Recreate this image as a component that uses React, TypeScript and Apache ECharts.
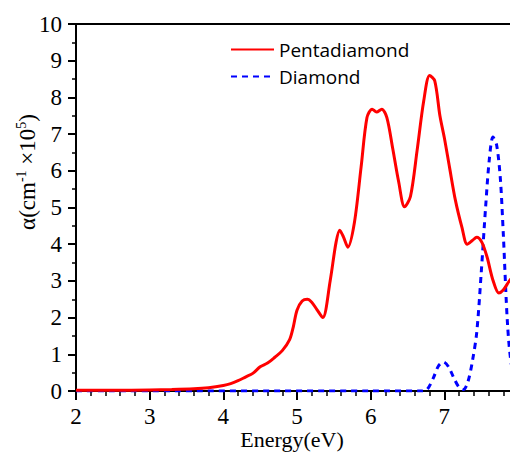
import React, { useEffect, useRef } from "react";
import * as echarts from "echarts";

const seriesNames = ["Pentadiamond", "Diamond"];

const pentaEnergy = [2.0, 2.5, 3.0, 3.3, 3.6, 3.8, 4.0, 4.1, 4.2, 4.3, 4.4, 4.5, 4.6, 4.7, 4.8, 4.9, 4.95, 5.0, 5.07, 5.14, 5.2, 5.27, 5.35, 5.45, 5.53, 5.58, 5.63, 5.69, 5.78, 5.87, 5.95, 6.02, 6.08, 6.15, 6.22, 6.3, 6.38, 6.46, 6.54, 6.63, 6.72, 6.8, 6.87, 6.94, 7.0, 7.07, 7.15, 7.24, 7.31, 7.38, 7.44, 7.51, 7.58, 7.66, 7.74, 7.8, 7.89, 8.0];
const pentaAlpha = [0.02, 0.02, 0.03, 0.04, 0.06, 0.09, 0.15, 0.2, 0.28, 0.38, 0.48, 0.66, 0.76, 0.92, 1.1, 1.4, 1.75, 2.2, 2.45, 2.5, 2.42, 2.22, 2.0, 3.0, 4.05, 4.38, 4.2, 3.92, 4.6, 6.1, 7.45, 7.68, 7.6, 7.68, 7.45, 6.6, 5.7, 5.02, 5.3, 6.55, 7.9, 8.6, 8.45, 7.5, 6.9, 6.1, 5.2, 4.45, 4.0, 4.1, 4.19, 4.05, 3.65, 3.02, 2.67, 2.75, 3.02, 3.25];

const diamondEnergy = [2.0, 6.0, 6.7, 6.77, 6.85, 6.92, 6.99, 7.06, 7.13, 7.2, 7.26, 7.32, 7.38, 7.44, 7.5, 7.56, 7.61, 7.66, 7.71, 7.76, 7.8, 7.86, 7.92, 8.0];
const diamondAlpha = [0, 0, 0, 0.05, 0.35, 0.68, 0.79, 0.65, 0.35, 0.1, 0.04, 0.25, 0.8, 1.6, 3.2, 5.0, 6.3, 6.92, 6.7, 5.8, 4.3, 1.75, 0.6, 0.2];

const SERIF = "Liberation Serif";

export default function App() {
  const ref = useRef<HTMLDivElement>(null);
  useEffect(() => {
    document.body.style.margin = "0";
    const chart = echarts.init(ref.current!, null, { renderer: "svg" });
    const toPairs = (xs: number[], ys: number[]) => xs.map((x, i) => [x, ys[i]]);
    chart.setOption({
      animation: false,
      backgroundColor: "#fff",
      grid: {
        left: 76,
        right: 0,
        top: 24,
        bottom: 61,
        containLabel: false,
        outerBoundsMode: "none",
        show: true,
        borderColor: "#000",
        borderWidth: 2,
      },
      legend: {
        orient: "vertical",
        left: 225,
        top: 35,
        itemWidth: 43,
        itemHeight: 14,
        itemGap: 8,
        data: seriesNames,
        itemStyle: { opacity: 0 },
        textStyle: { fontFamily: "Open Sans", fontSize: 19, color: "#000", lineHeight: 19 },
      },
      xAxis: {
        type: "value",
        min: 2,
        max: 8,
        interval: 1,
        name: "Energy(eV)",
        nameLocation: "middle",
        nameGap: 37,
        nameMoveOverlap: false,
        nameTextStyle: { fontFamily: SERIF, fontSize: 22, color: "#000", lineHeight: 22, padding: [0, 10, 0, 0] },
        axisLine: { onZero: false, lineStyle: { color: "#000", width: 2 } },
        axisTick: { length: 9, lineStyle: { color: "#000", width: 2 } },
        minorTick: { show: true, splitNumber: 5, length: 5, lineStyle: { color: "#000", width: 1.5 } },
        splitLine: { show: false },
        axisLabel: { fontFamily: SERIF, fontSize: 23, lineHeight: 22, color: "#000", margin: 14, showMaxLabel: false },
      },
      yAxis: {
        type: "value",
        min: 0,
        max: 10,
        interval: 1,
        axisLine: { show: true, lineStyle: { color: "#000", width: 2 } },
        axisTick: { show: true, length: 8, lineStyle: { color: "#000", width: 2 } },
        minorTick: { show: true, splitNumber: 2, length: 4, lineStyle: { color: "#000", width: 1.5 } },
        splitLine: { show: false },
        axisLabel: { fontFamily: SERIF, fontSize: 23, color: "#000", margin: 14 },
      },
      graphic: [
        {
          type: "text",
          x: 27,
          y: 172,
          rotation: Math.PI / 2,
          style: {
            text: "{n|α(cm}{s|-1}{n| ×10}{s|5}{n|)}",
            align: "center",
            verticalAlign: "middle",
            fill: "#000",
            rich: {
              n: { fontFamily: SERIF, fontSize: 23, lineHeight: 26, fill: "#000" },
              s: { fontFamily: SERIF, fontSize: 14, lineHeight: 26, verticalAlign: "top", fill: "#000" },
            },
          },
        },
      ],
      series: [
        {
          name: seriesNames[0],
          type: "line",
          data: toPairs(pentaEnergy, pentaAlpha),
          smooth: 0.3,
          symbol: "none",
          z: 3,
          lineStyle: { color: "#ff0000", width: 3 },
          itemStyle: { color: "#ff0000" },
        },
        {
          name: seriesNames[1],
          type: "line",
          data: toPairs(diamondEnergy, diamondAlpha),
          smooth: 0.3,
          symbol: "none",
          z: 2,
          lineStyle: { color: "#0000ff", width: 3, type: [6, 5] },
          itemStyle: { color: "#0000ff" },
        },
      ],
    });
    return () => chart.dispose();
  }, []);
  return (
    <div style={{ width: 510, height: 452, overflow: "hidden", background: "#fff" }}>
      <div ref={ref} style={{ width: 518, height: 452 }} />
    </div>
  );
}
